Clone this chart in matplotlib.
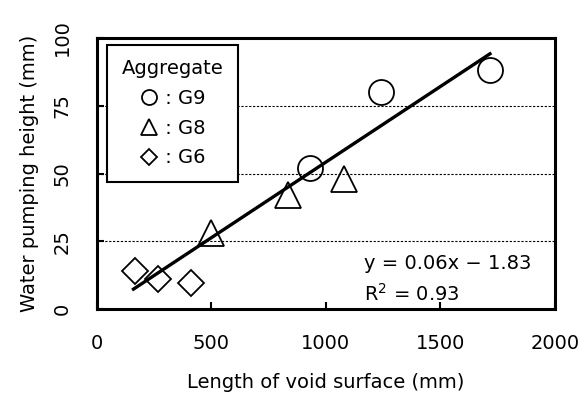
import matplotlib
matplotlib.use('Agg')
import matplotlib.pyplot as plt
import numpy as np

plt.rcParams['font.family'] = ['DejaVu Sans']

# data
G9_X = [929, 1243, 1717]
G9_Y = [52, 80, 88]
G8_X = [500, 836, 1080]
G8_Y = [28, 42, 48]
G6_X = [168, 265, 411]
G6_Y = [14, 11, 9.5]

FIT_X = [160, 1717]
FIT_SLOPE = 0.0557
FIT_ICPT = -1.5

X_TICKS = [0, 500, 1000, 1500, 2000]
Y_TICKS = [0, 25, 50, 75, 100]

fig = plt.figure(figsize=(5.87, 3.99), dpi=100)
ax = fig.add_axes([0.165, 0.225, 0.78, 0.68])

for y in [25, 50, 75]:
    ax.axhline(y, color='black', linestyle=(0, (2, 1.5)), linewidth=0.8, zorder=1)

mk = dict(linestyle='none', markerfacecolor='none', markeredgecolor='black',
          markeredgewidth=1.3, zorder=3)
ax.plot(G9_X, G9_Y, marker='o', markersize=18, label=' : G9', **mk)
ax.plot(G8_X, G8_Y, marker='^', markersize=19, label=' : G8', **mk)
ax.plot(G6_X, G6_Y, marker='D', markersize=13, label=' : G6', **mk)

fx = np.array(FIT_X)
ax.plot(fx, FIT_SLOPE * fx + FIT_ICPT, color='black', linewidth=2.4, zorder=2)

ax.set_xlim(0, 2000)
ax.set_ylim(0, 100)
ax.set_xticks(X_TICKS)
ax.set_yticks(Y_TICKS)
ax.set_xticklabels([str(t) for t in X_TICKS], fontsize=14)
ax.set_yticklabels([str(t) for t in Y_TICKS], fontsize=14, rotation=90, va='center')
ax.tick_params(axis='x', direction='in', length=5, width=1.5, pad=18)
ax.tick_params(axis='y', direction='in', length=5, width=1.5, pad=18)
for s in ax.spines.values():
    s.set_linewidth(2.2)

ax.set_xlabel('Length of void surface (mm)', fontsize=14, labelpad=14)
ax.set_ylabel('Water pumping height (mm)', fontsize=14, labelpad=10)

ax.text(1165, 17, 'y = 0.06x \u2212 1.83', fontsize=14, va='center')
ax.text(1165, 5.5, 'R$^2$ = 0.93', fontsize=14, va='center')

leg = ax.legend(title='Aggregate', loc='upper left', bbox_to_anchor=(0.022, 0.975),
                borderaxespad=0, fontsize=14, title_fontsize=14, fancybox=False,
                framealpha=1, edgecolor='black', handlelength=1.0,
                handletextpad=0.0, markerscale=0.6, borderpad=0.75,
                labelspacing=0.55)
leg.get_frame().set_linewidth(1.5)
leg.set_zorder(5)

fig.savefig('out.png', dpi=100)
